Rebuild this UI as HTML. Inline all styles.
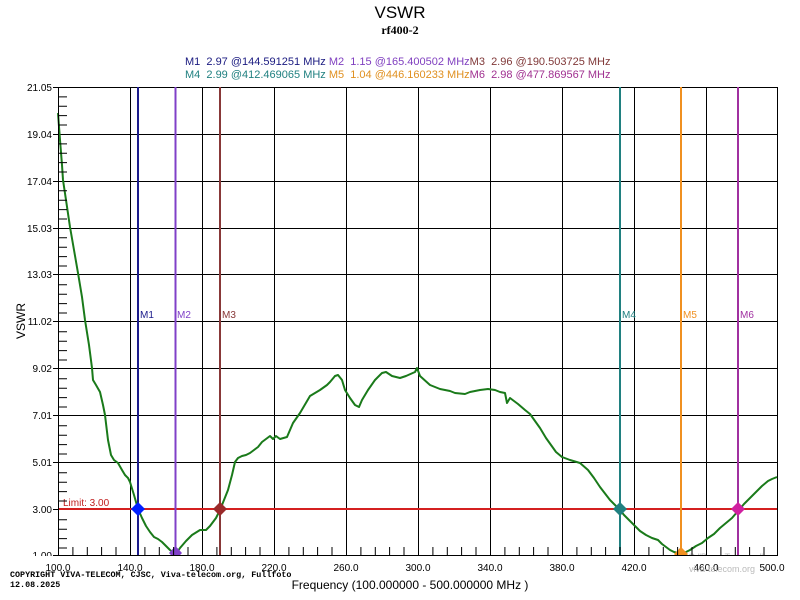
<!DOCTYPE html>
<html><head><meta charset="utf-8"><style>
body{margin:0;background:#fff;}
svg{display:block;}
text{font-family:"Liberation Sans",sans-serif;white-space:pre;}
</style></head><body>
<svg width="800" height="600" xmlns="http://www.w3.org/2000/svg">
<rect width="800" height="600" fill="#fff"/>
<text x="400" y="18" font-size="17" text-anchor="middle">VSWR</text>
<text x="400" y="34" font-size="12" font-weight="bold" text-anchor="middle" style="font-family:'Liberation Serif',serif">rf400-2</text>
<g font-size="11">
<text x="185" y="65" xml:space="preserve"><tspan fill="#1a1a80">M1  2.97 @144.591251 MHz </tspan><tspan fill="#8040c0">M2  1.15 @165.400502 MHz</tspan><tspan fill="#803838">M3  2.96 @190.503725 MHz</tspan></text>
<text x="185" y="78" xml:space="preserve"><tspan fill="#208080">M4  2.99 @412.469065 MHz </tspan><tspan fill="#e09020">M5  1.04 @446.160233 MHz</tspan><tspan fill="#a03090">M6  2.98 @477.869567 MHz</tspan></text>
</g>
<g stroke="#000" stroke-width="1">
<rect x="58.5" y="87.5" width="719" height="468" fill="none"/>
<path d="M130.5 87V555M202.5 87V555M274.5 87V555M346.5 87V555M418.5 87V555M490.5 87V555M562.5 87V555M634.5 87V555M706.5 87V555"/>
<path d="M58 134.5H777M58 181.5H777M58 228.5H777M58 274.5H777M58 321.5H777M58 368.5H777M58 415.5H777M58 462.5H777"/>
</g>
<g font-size="10" text-anchor="end" fill="#000">
<text x="52" y="91">21.05</text><text x="52" y="138">19.04</text><text x="52" y="185">17.04</text><text x="52" y="232">15.03</text><text x="52" y="278">13.03</text><text x="52" y="325">11.02</text><text x="52" y="372">9.02</text><text x="52" y="419">7.01</text><text x="52" y="466">5.01</text><text x="52" y="513">3.00</text><text x="52" y="559">1.00</text>
</g>
<g font-size="10" text-anchor="middle">
<text x="58" y="571">100.0</text><text x="130" y="571">140.0</text><text x="202" y="571">180.0</text><text x="274" y="571">220.0</text><text x="346" y="571">260.0</text><text x="418" y="571">300.0</text><text x="490" y="571">340.0</text><text x="562" y="571">380.0</text><text x="634" y="571">420.0</text><text x="706" y="571">460.0</text><text x="772" y="571">500.0</text>
</g>
<text x="25" y="321" font-size="12" text-anchor="middle" transform="rotate(-90 25 321)">VSWR</text>
<text x="410" y="589" font-size="12" text-anchor="middle">Frequency (100.000000 - 500.000000 MHz )</text>
<text x="10" y="577" font-size="8.4" font-weight="bold" style="font-family:'Liberation Mono',monospace">COPYRIGHT VIVA-TELECOM, CJSC, Viva-telecom.org, Fullfoto</text>
<text x="10" y="587" font-size="8.4" font-weight="bold" style="font-family:'Liberation Mono',monospace">12.08.2025</text>
<text x="720" y="560" font-size="9" fill="#bbb" text-anchor="middle">ЗАО "Вива-Телеком"</text>
<text x="722" y="572" font-size="9" fill="#bbb" text-anchor="middle">viva-telecom.org</text>
<line x1="58" y1="509" x2="777" y2="509" stroke="#d42020" stroke-width="2"/>
<text x="63" y="506" font-size="10" fill="#c02020">Limit: 3.00</text>
<g stroke-width="2">
<line x1="138" y1="87" x2="138" y2="555" stroke="#1c1c8c"/>
<line x1="175.5" y1="87" x2="175.5" y2="555" stroke="#8040c8"/>
<line x1="220" y1="87" x2="220" y2="555" stroke="#883838"/>
<line x1="620" y1="87" x2="620" y2="555" stroke="#208080"/>
<line x1="681" y1="87" x2="681" y2="555" stroke="#f09020"/>
<line x1="738" y1="87" x2="738" y2="555" stroke="#a030a0"/>
</g>
<g font-size="10">
<text x="140" y="318" fill="#1c1c8c">M1</text><text x="177" y="318" fill="#8040c8">M2</text><text x="222" y="318" fill="#883838">M3</text><text x="622" y="318" fill="#208080">M4</text><text x="683" y="318" fill="#f09020">M5</text><text x="740" y="318" fill="#a030a0">M6</text>
</g>
<polyline fill="none" stroke="#1a7a1a" stroke-width="2" stroke-linejoin="round" points="58,113 60,140 62,165 63,180 66,200 70,227 74,250 78,273 82,297 85,320 89,345 92,368 93,380 96,385 100,392 103,405 105,415 108,440 111,455 114,460 118,463 122,470 125,475 128,478 130,482 134,495 138,509 142,518 146,526 150,532 154,537 158,539 162,542 166,546 170,550 174,553 176,554 180,548 186,541 192,535 200,530 206,530 210,526 216,518 220,510 224,500 228,490 232,475 235,462 238,458 242,456 246,455 250,453 254,450 258,447 262,442 266,439 270,436 273,439 276,436 280,439 287,437 293,423 300,413 310,396 320,390 327,385 330,382 335,376 338,375 342,380 345,390 350,398 355,405 359,407 362,400 368,390 375,380 382,373 386,372 392,376 400,378 406,376 415,372 417,368 420,376 430,385 440,389 450,391 455,393 465,394 470,392 480,390 488,389 495,390 500,392 505,393 507,403 510,398 518,404 525,410 530,414 540,428 546,438 556,452 562,457 570,460 580,463 588,470 594,478 600,487 610,500 616,506 620,510 624,515 628,519 632,523 636,527 640,531 646,535 652,538 658,540 662,544 666,547 670,550 674,552 678,553 682,554 686,552 690,550 696,546 702,543 708,538 714,534 720,528 726,523 732,518 738,511 744,504 750,498 756,492 762,486 768,481 772,479 777,477"/>
<g>
<path d="M138 502L145 509L138 516L131 509Z" fill="#0020ff"/>
<path d="M175.5 546L182 553L175.5 560L169 553Z" fill="#8040c8"/>
<path d="M220 502L227 509L220 516L213 509Z" fill="#9a2a2a"/>
<path d="M620 502L627 509L620 516L613 509Z" fill="#208080"/>
<path d="M681 547L688 554L681 561L674 554Z" fill="#f09020"/>
<path d="M738 502L745 509L738 516L731 509Z" fill="#d020a0"/>
</g>
<rect x="0" y="556" width="800" height="6" fill="#fff"/>
<g stroke="#000" stroke-width="1">
<path d="M58 96.9H67M58 106.3H67M58 115.6H67M58 125H67M58 143.9H67M58 153.2H67M58 162.6H67M58 172H67M58 190.8H67M58 200.2H67M58 209.6H67M58 219H67M58 237.8H67M58 247.2H67M58 256.6H67M58 266H67M58 284.8H67M58 294.2H67M58 303.6H67M58 313H67M58 331.8H67M58 341.2H67M58 350.6H67M58 360H67M58 378.8H67M58 388.2H67M58 397.6H67M58 407H67M58 425.8H67M58 435.2H67M58 444.6H67M58 454H67M58 472.8H67M58 482.2H67M58 491.6H67M58 501H67M58 519.8H67M58 529.2H67M58 538.6H67M58 548H67"/>
<path d="M72.9 555V547M87.3 555V547M101.6 555V547M116 555V547M144.9 555V547M159.3 555V547M173.6 555V547M188 555V547M216.9 555V547M231.3 555V547M245.6 555V547M260 555V547M288.9 555V547M303.3 555V547M317.6 555V547M332 555V547M360.9 555V547M375.3 555V547M389.6 555V547M404 555V547M432.9 555V547M447.3 555V547M461.6 555V547M476 555V547M504.9 555V547M519.3 555V547M533.6 555V547M548 555V547M576.9 555V547M591.3 555V547M605.6 555V547M620 555V547M648.9 555V547M663.3 555V547M677.6 555V547M692 555V547M720.9 555V547M735.3 555V547M749.6 555V547M764 555V547"/>
<path d="M58.5 87V556M58 555.5H778M53 87.5H58M53 134.5H58M53 181.5H58M53 228.5H58M53 274.5H58M53 321.5H58M53 368.5H58M53 415.5H58M53 462.5H58M53 509.5H58M53 555.5H58"/>
</g>
</svg>
</body></html>
